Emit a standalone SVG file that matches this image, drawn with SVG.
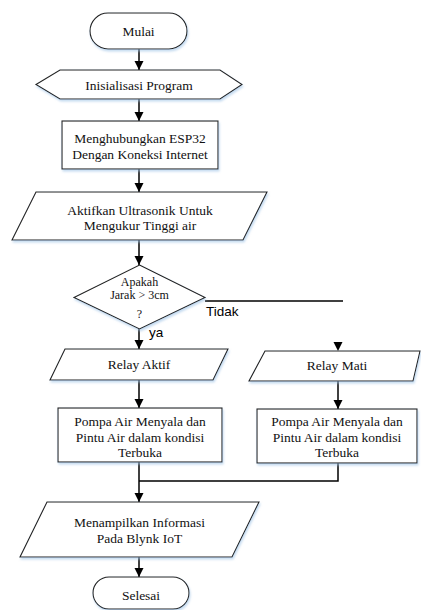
<svg xmlns="http://www.w3.org/2000/svg" width="421" height="610" viewBox="0 0 421 610">
<defs>
<marker id="ah" markerUnits="userSpaceOnUse" markerWidth="9" markerHeight="10" refX="9" refY="4.5" orient="auto">
<path d="M0,0 L9,4.5 L0,9 z" fill="#000"/>
</marker>
<filter id="sh" x="-10%" y="-10%" width="130%" height="140%">
<feDropShadow dx="1" dy="2" stdDeviation="1" flood-color="#9dc3e6" flood-opacity="0.6"/>
</filter>
<style>
.s{fill:#fff;stroke:#222;stroke-width:1.1;filter:url(#sh)}
.t{font-family:"Liberation Serif","Times New Roman",serif;font-size:13.5px;fill:#111;text-anchor:middle}
.d{font-size:12px}
.l{font-family:"Liberation Sans",Arial,sans-serif;font-size:13.5px;fill:#000}
.c{fill:none;stroke:#000;stroke-width:1.5}
.a{marker-end:url(#ah)}
</style>
</defs>
<g id="connectors">
<line class="c a" x1="139" y1="49" x2="139" y2="70"/>
<line class="c a" x1="139" y1="99" x2="139" y2="121"/>
<line class="c a" x1="139" y1="169" x2="139" y2="192"/>
<line class="c a" x1="139" y1="240" x2="139" y2="265"/>
<line class="c a" x1="139" y1="329" x2="139" y2="349"/>
<line class="c a" x1="139" y1="380" x2="139" y2="408"/>
<line class="c a" x1="338" y1="381" x2="338" y2="409"/>
<polyline class="c" points="338,463 338,481 139,481"/>
<line class="c a" x1="139" y1="462" x2="139" y2="502"/>
<line class="c a" x1="139" y1="557" x2="139" y2="577"/>
<line class="c" x1="205" y1="301" x2="343" y2="301"/>
<path d="M333.5,342 L342.5,342 L338,351 z" fill="#000"/>
<text class="l" x="206" y="316">Tidak</text>
<text class="l" x="149" y="337">ya</text>
</g>
<g id="mulai">
<rect class="s" x="90" y="13" width="97" height="36" rx="18"/>
<text class="t" x="138.5" y="35.5">Mulai</text>
</g>
<g id="inisialisasi">
<polygon class="s" points="36,84.5 60,70 220,70 242,84.5 220,99 60,99"/>
<text class="t" x="139" y="89.5">Inisialisasi Program</text>
</g>
<g id="koneksi">
<rect class="s" x="62" y="121" width="156" height="48"/>
<text class="t" x="140" y="142.5">Menghubungkan ESP32</text>
<text class="t" x="140" y="158.5">Dengan Koneksi Internet</text>
</g>
<g id="ultrasonik">
<polygon class="s" points="36,192 267,192 243,240 12,240"/>
<text class="t" x="140" y="214.5">Aktifkan Ultrasonik Untuk</text>
<text class="t" x="140" y="230">Mengukur Tinggi air</text>
</g>
<g id="keputusan">
<polygon class="s" points="139.5,265 205,297.5 139.5,329 74,297.5"/>
<text class="t d" x="139.5" y="285.5">Apakah</text>
<text class="t d" x="139.5" y="299">Jarak &gt; 3cm</text>
<text class="t d" x="139.5" y="318">?</text>
</g>
<g id="relay-aktif">
<polygon class="s" points="65,349 228,349 213,380 50,380"/>
<text class="t" x="139" y="369">Relay Aktif</text>
</g>
<g id="relay-mati">
<polygon class="s" points="265,351 420,351 413,381 249,381"/>
<text class="t" x="337" y="370">Relay Mati</text>
</g>
<g id="pompa-kiri">
<rect class="s" x="58" y="408" width="164" height="54"/>
<text class="t" x="140" y="426">Pompa Air Menyala dan</text>
<text class="t" x="140" y="441.5">Pintu Air dalam kondisi</text>
<text class="t" x="140" y="457">Terbuka</text>
</g>
<g id="pompa-kanan">
<rect class="s" x="257" y="409" width="160" height="54"/>
<text class="t" x="337" y="426">Pompa Air Menyala dan</text>
<text class="t" x="337" y="441.5">Pintu Air dalam kondisi</text>
<text class="t" x="337" y="457">Terbuka</text>
</g>
<g id="informasi">
<polygon class="s" points="47,502 259,502 232,557 20,557"/>
<text class="t" x="139.5" y="527">Menampilkan Informasi</text>
<text class="t" x="139.5" y="543">Pada Blynk IoT</text>
</g>
<g id="selesai">
<rect class="s" x="93" y="577" width="96" height="32" rx="16"/>
<text class="t" x="141" y="600">Selesai</text>
</g>
</svg>
